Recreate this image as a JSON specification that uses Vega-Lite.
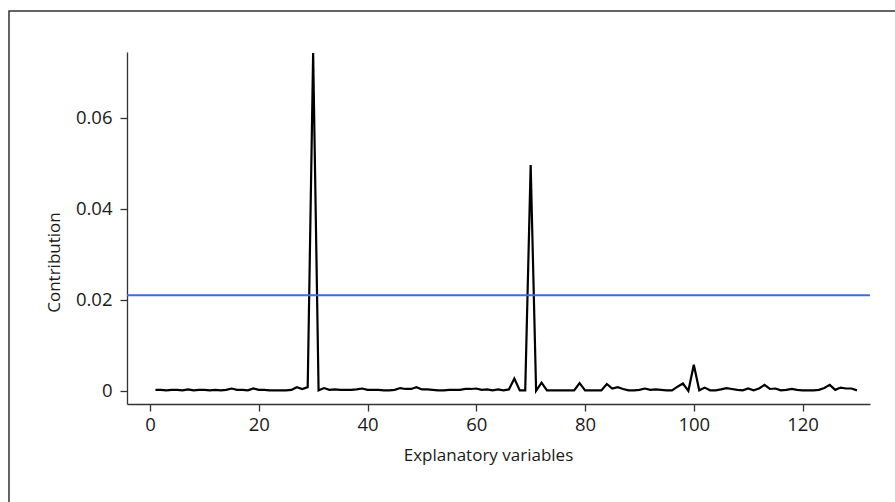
{
  "$schema": "https://vega.github.io/schema/vega-lite/v6.json",
  "width": 743,
  "height": 352,
  "autosize": "none",
  "padding": {"left": 127, "top": 52, "right": 25, "bottom": 98},
  "background": "white",
  "config": {
    "view": {"stroke": null},
    "font": "Open Sans",
    "axis": {
      "grid": false,
      "domainColor": "#333333",
      "domainWidth": 1.3,
      "tickColor": "#333333",
      "tickWidth": 1.3,
      "tickSize": 7,
      "labelFont": "Open Sans",
      "labelFontSize": 18.5,
      "labelColor": "#1a1a1a",
      "titleFont": "Open Sans",
      "titleFontSize": 17,
      "titleFontWeight": "normal",
      "titleColor": "#1a1a1a"
    }
  },
  "datasets": {
    "contrib": [
      {"v": 1, "c": 0.0002}, {"v": 2, "c": 0.0002}, {"v": 3, "c": 0.0001}, {"v": 4, "c": 0.0002}, {"v": 5, "c": 0.0002},
      {"v": 6, "c": 0.0001}, {"v": 7, "c": 0.0003}, {"v": 8, "c": 0.0001}, {"v": 9, "c": 0.0002}, {"v": 10, "c": 0.0002},
      {"v": 11, "c": 0.0001}, {"v": 12, "c": 0.0002}, {"v": 13, "c": 0.0001}, {"v": 14, "c": 0.0002}, {"v": 15, "c": 0.0005},
      {"v": 16, "c": 0.0002}, {"v": 17, "c": 0.0002}, {"v": 18, "c": 0.0001}, {"v": 19, "c": 0.0005}, {"v": 20, "c": 0.0002},
      {"v": 21, "c": 0.0002}, {"v": 22, "c": 0.0001}, {"v": 23, "c": 0.0001}, {"v": 24, "c": 0.0001}, {"v": 25, "c": 0.0001},
      {"v": 26, "c": 0.0002}, {"v": 27, "c": 0.0008}, {"v": 28, "c": 0.0004}, {"v": 29, "c": 0.0008}, {"v": 30, "c": 0.0742},
      {"v": 31, "c": 0.0001}, {"v": 32, "c": 0.0006}, {"v": 33, "c": 0.0002}, {"v": 34, "c": 0.0003}, {"v": 35, "c": 0.0002},
      {"v": 36, "c": 0.0002}, {"v": 37, "c": 0.0002}, {"v": 38, "c": 0.0003}, {"v": 39, "c": 0.0005}, {"v": 40, "c": 0.0002},
      {"v": 41, "c": 0.0002}, {"v": 42, "c": 0.0002}, {"v": 43, "c": 0.0001}, {"v": 44, "c": 0.0001}, {"v": 45, "c": 0.0002},
      {"v": 46, "c": 0.0006}, {"v": 47, "c": 0.0004}, {"v": 48, "c": 0.0004}, {"v": 49, "c": 0.0008}, {"v": 50, "c": 0.0003},
      {"v": 51, "c": 0.0003}, {"v": 52, "c": 0.0002}, {"v": 53, "c": 0.0001}, {"v": 54, "c": 0.0001}, {"v": 55, "c": 0.0002},
      {"v": 56, "c": 0.0002}, {"v": 57, "c": 0.0002}, {"v": 58, "c": 0.0004}, {"v": 59, "c": 0.0004}, {"v": 60, "c": 0.0005},
      {"v": 61, "c": 0.0002}, {"v": 62, "c": 0.0003}, {"v": 63, "c": 0.0001}, {"v": 64, "c": 0.0003}, {"v": 65, "c": 0.0001},
      {"v": 66, "c": 0.0003}, {"v": 67, "c": 0.0027}, {"v": 68, "c": 0.0001}, {"v": 69, "c": 0.0001}, {"v": 70, "c": 0.0496},
      {"v": 71, "c": 0.0000}, {"v": 72, "c": 0.0018}, {"v": 73, "c": 0.0001}, {"v": 74, "c": 0.0001}, {"v": 75, "c": 0.0001},
      {"v": 76, "c": 0.0001}, {"v": 77, "c": 0.0001}, {"v": 78, "c": 0.0001}, {"v": 79, "c": 0.0017}, {"v": 80, "c": 0.0001},
      {"v": 81, "c": 0.0001}, {"v": 82, "c": 0.0001}, {"v": 83, "c": 0.0001}, {"v": 84, "c": 0.0015}, {"v": 85, "c": 0.0005},
      {"v": 86, "c": 0.0008}, {"v": 87, "c": 0.0004}, {"v": 88, "c": 0.0001}, {"v": 89, "c": 0.0001}, {"v": 90, "c": 0.0002},
      {"v": 91, "c": 0.0005}, {"v": 92, "c": 0.0002}, {"v": 93, "c": 0.0003}, {"v": 94, "c": 0.0002}, {"v": 95, "c": 0.0001},
      {"v": 96, "c": 0.0001}, {"v": 97, "c": 0.0009}, {"v": 98, "c": 0.0016}, {"v": 99, "c": 0.0000}, {"v": 100, "c": 0.0057},
      {"v": 101, "c": 0.0001}, {"v": 102, "c": 0.0007}, {"v": 103, "c": 0.0001}, {"v": 104, "c": 0.0001}, {"v": 105, "c": 0.0003},
      {"v": 106, "c": 0.0006}, {"v": 107, "c": 0.0004}, {"v": 108, "c": 0.0002}, {"v": 109, "c": 0.0001}, {"v": 110, "c": 0.0005},
      {"v": 111, "c": 0.0001}, {"v": 112, "c": 0.0005}, {"v": 113, "c": 0.0013}, {"v": 114, "c": 0.0004}, {"v": 115, "c": 0.0005},
      {"v": 116, "c": 0.0001}, {"v": 117, "c": 0.0002}, {"v": 118, "c": 0.0004}, {"v": 119, "c": 0.0002}, {"v": 120, "c": 0.0001},
      {"v": 121, "c": 0.0001}, {"v": 122, "c": 0.0001}, {"v": 123, "c": 0.0002}, {"v": 124, "c": 0.0006}, {"v": 125, "c": 0.0013},
      {"v": 126, "c": 0.0002}, {"v": 127, "c": 0.0007}, {"v": 128, "c": 0.0005}, {"v": 129, "c": 0.0005}, {"v": 130, "c": 0.0001}
    ],
    "threshold": [{"t": 0.021}],
    "frame": [{"x0": -25.93, "x1": 220, "y0": 0.0834, "y1": -0.08}]
  },
  "layer": [
    {
      "data": {"name": "contrib"},
      "mark": {"type": "line", "color": "black", "strokeWidth": 2.2, "strokeJoin": "miter", "clip": false},
      "encoding": {
        "x": {
          "field": "v", "type": "quantitative",
          "scale": {"domain": [-4.23, 132.4], "nice": false, "zero": false},
          "axis": {"values": [0, 20, 40, 60, 80, 100, 120], "title": "Explanatory variables", "labelPadding": 4, "titlePadding": 14, "titleX": 361}
        },
        "y": {
          "field": "c", "type": "quantitative",
          "scale": {"domain": [-0.0029, 0.0744], "nice": false, "zero": false},
          "axis": {"values": [0, 0.02, 0.04, 0.06], "labelExpr": "datum.value == 0 ? '0' : format(datum.value, '.2f')", "title": "Contribution", "labelPadding": 8, "titlePadding": 12, "titleY": 210}
        }
      }
    },
    {
      "data": {"name": "threshold"},
      "mark": {"type": "rule", "color": "#3d6be0", "strokeWidth": 2},
      "encoding": {"y": {"field": "t", "type": "quantitative"}}
    },
    {
      "data": {"name": "frame"},
      "mark": {"type": "rect", "fillOpacity": 0, "stroke": "#333333", "strokeWidth": 1.5, "clip": false},
      "encoding": {
        "x": {"field": "x0", "type": "quantitative"},
        "x2": {"field": "x1"},
        "y": {"field": "y0", "type": "quantitative"},
        "y2": {"field": "y1"}
      }
    }
  ]
}
